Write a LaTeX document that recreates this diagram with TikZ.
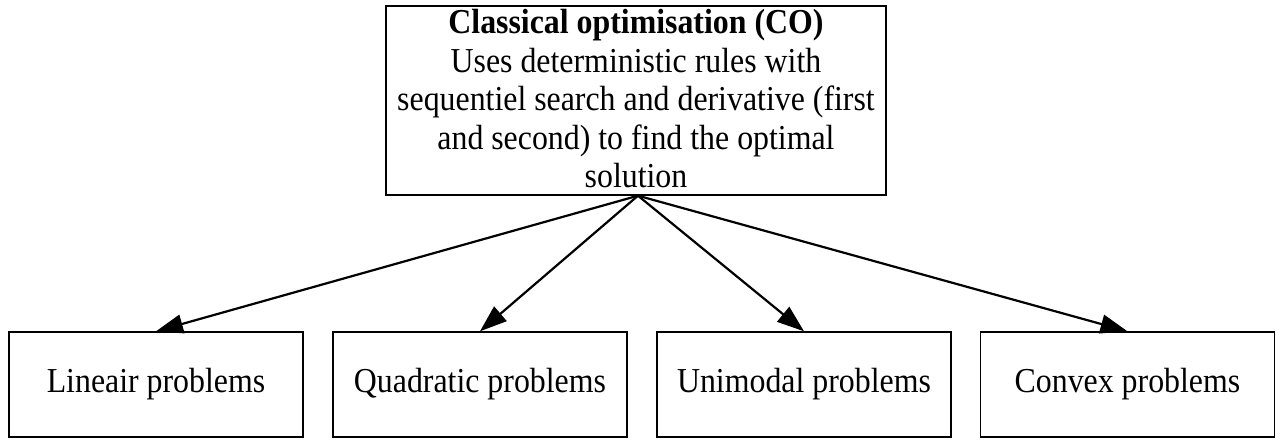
\documentclass[tikz,border=0pt]{standalone}
\usepackage{fontspec}
\setmainfont{Liberation Serif}[FakeStretch=0.91]
\usetikzlibrary{arrows.meta}
\begin{document}
\begin{tikzpicture}[x=1pt,y=1pt,
  every node/.style={font=\fontsize{35}{38.4}\selectfont},
  topbox/.style={draw, line width=1.4pt, rectangle, inner sep=0pt, align=center,
    minimum width=500pt, minimum height=189pt},
  leafbox/.style={draw, line width=1.4pt, rectangle, inner sep=0pt,
    minimum width=294pt, minimum height=105pt},
  edge/.style={line width=2.2pt, -{Triangle[length=27pt,width=19pt]}}]
  \useasboundingbox (0,0) rectangle (1276,439);

  % root of the tree
  \node[topbox] (co) at (636,338.5)
    {\textbf{Classical optimisation (CO)}\\
     Uses deterministic rules with\\
     sequentiel search and derivative (first\\
     and second) to find the optimal\\
     solution\rule[-4pt]{0pt}{0pt}};

  % problem classes
  \node[leafbox] (lin)  at (156,54.5)    {Lineair problems};
  \node[leafbox] (quad) at (480,54.5)    {Quadratic problems};
  \node[leafbox] (uni)  at (804,54.5)    {Unimodal problems};
  \node[leafbox] (conv) at (1127.5,54.5) {Convex problems};

  \coordinate (apex) at ([xshift=2pt]co.south);
  \foreach \n in {lin,quad,uni,conv}
    \draw[edge] (apex) -- (\n.north);
\end{tikzpicture}
\end{document}
